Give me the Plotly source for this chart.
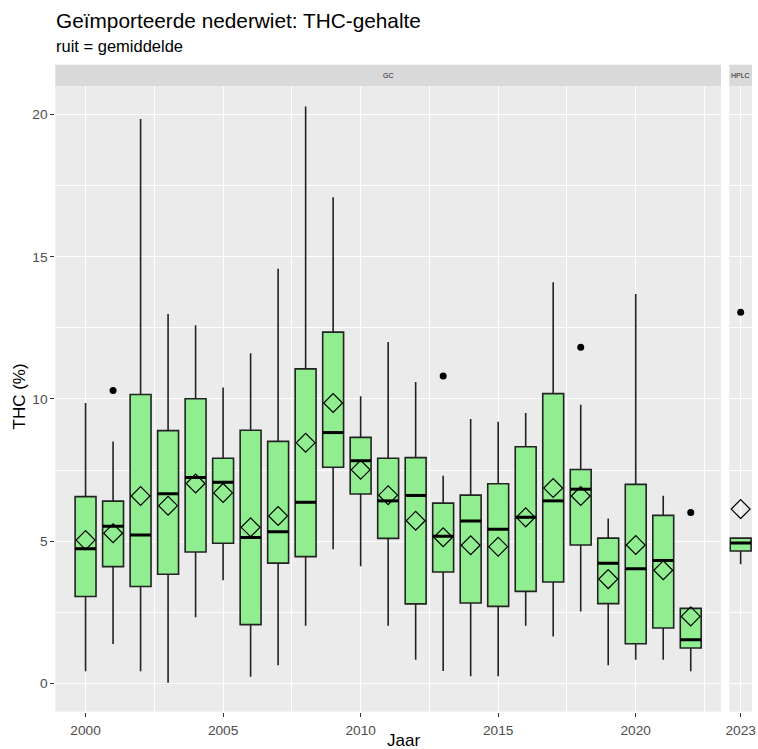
import plotly.graph_objects as go

# ---- data ----
years_gc = [2000, 2001, 2002, 2003, 2004, 2005, 2006, 2007, 2008, 2009, 2010, 2011,
            2012, 2013, 2014, 2015, 2016, 2017, 2018, 2019, 2020, 2021, 2022]
q1_gc = [3.06, 4.11, 3.41, 3.84, 4.62, 4.93, 2.07, 4.23, 4.46, 7.60, 6.66, 5.10,
         2.80, 3.92, 2.83, 2.71, 3.24, 3.57, 4.87, 2.81, 1.40, 1.95, 1.25]
med_gc = [4.74, 5.53, 5.22, 6.67, 7.24, 7.07, 5.13, 5.33, 6.37, 8.82, 7.83, 6.42,
          6.61, 5.18, 5.71, 5.42, 5.84, 6.42, 6.83, 4.23, 4.03, 4.32, 1.54]
q3_gc = [6.57, 6.41, 10.16, 8.89, 10.01, 7.92, 8.90, 8.51, 11.06, 12.35, 8.65, 7.92,
         7.94, 6.34, 6.62, 7.02, 8.32, 10.19, 7.52, 5.11, 7.00, 5.91, 2.64]
low_gc = [0.43, 1.39, 0.43, 0.03, 2.33, 3.63, 0.24, 0.64, 2.03, 4.72, 4.12, 2.03,
          0.84, 0.44, 0.26, 0.26, 2.03, 1.65, 2.53, 0.64, 0.84, 0.84, 0.43]
up_gc = [9.86, 8.51, 19.84, 12.99, 12.59, 10.40, 11.61, 14.58, 20.28, 17.09, 10.10, 12.00,
         10.60, 7.30, 9.30, 9.20, 9.51, 14.10, 9.80, 5.80, 13.69, 6.60, 2.66]
mean_gc = [5.04, 5.28, 6.59, 6.25, 7.03, 6.70, 5.49, 5.89, 8.46, 9.86, 7.51, 6.62,
           5.72, 5.14, 4.86, 4.81, 5.84, 6.87, 6.59, 3.67, 4.87, 3.98, 2.36]
out_x_gc = [2001, 2013, 2018, 2022]
out_y_gc = [10.30, 10.81, 11.82, 6.01]

years_hplc = [2023]
q1_hplc = [4.66]
med_hplc = [4.94]
q3_hplc = [5.11]
low_hplc = [4.19]
up_hplc = [5.11]
mean_hplc = [6.13]
out_x_hplc = [2023]
out_y_hplc = [13.05]

y_ticks = [0, 5, 10, 15, 20]
x_ticks_gc = [2000, 2005, 2010, 2015, 2020]
x_ticks_hplc = [2023]

TITLE = "Geïmporteerde nederwiet: THC-gehalte"
SUBTITLE = "ruit = gemiddelde"

# ---- style ----
W, H = 758, 749
FONT = "Liberation Sans, Arial, Helvetica, sans-serif"
BOX_W = 0.76
FILL = "#90EE90"
LINE = "#222222"
PANEL_BG = "#EBEBEB"
STRIP_BG = "#D9D9D9"
TICK_C = "#4D4D4D"
TICK_SIZE = 13.7
AXT_SIZE = 17


def px(x):
    return x / W


def py(y):
    return 1 - y / H


fig = go.Figure()


def add_panel(xa, ya, years, q1, med, q3, low, up, mean, ox, oy):
    fig.add_trace(go.Box(
        x=years, q1=q1, median=med, q3=q3, lowerfence=low, upperfence=up,
        width=BOX_W, whiskerwidth=0, fillcolor=FILL,
        line=dict(color=LINE, width=1.6), boxpoints=False,
        xaxis=xa, yaxis=ya, showlegend=False, hoverinfo="skip"))
    mx, my = [], []
    for yr, m in zip(years, med):
        mx += [yr - BOX_W / 2, yr + BOX_W / 2, None]
        my += [m, m, None]
    fig.add_trace(go.Scatter(x=mx, y=my, mode="lines",
                             line=dict(color="black", width=3),
                             xaxis=xa, yaxis=ya, showlegend=False, hoverinfo="skip"))
    fig.add_trace(go.Scatter(x=years, y=mean, mode="markers",
                             marker=dict(symbol="diamond-open", size=14.5, color="black",
                                         line=dict(width=1.2, color="black")),
                             xaxis=xa, yaxis=ya, showlegend=False, hoverinfo="skip"))
    fig.add_trace(go.Scatter(x=ox, y=oy, mode="markers",
                             marker=dict(symbol="circle", size=7, color="black"),
                             xaxis=xa, yaxis=ya, showlegend=False, hoverinfo="skip"))


add_panel("x", "y", years_gc, q1_gc, med_gc, q3_gc, low_gc, up_gc, mean_gc, out_x_gc, out_y_gc)
add_panel("x2", "y2", years_hplc, q1_hplc, med_hplc, q3_hplc, low_hplc, up_hplc,
          mean_hplc, out_x_hplc, out_y_hplc)

L_GC, R_GC = 55.3, 721.0
L_HP, R_HP = 729.3, 752.0
TOP, BOT = 86.0, 711.7
STRIP_TOP = 64.7
SCALE = (R_GC - L_GC) / (2023.1 - 1998.9)
hp_half = (R_HP - L_HP) / SCALE / 2

common_x = dict(showline=False, zeroline=False, showgrid=True, gridcolor="white", gridwidth=1.1,
                automargin=False, ticklabelstandoff=2,
                ticks="outside", ticklen=4, tickwidth=1.1, tickcolor="#333333",
                tickfont=dict(family=FONT, size=TICK_SIZE, color=TICK_C))
common_y = dict(showline=False, zeroline=False, showgrid=True, gridcolor="white", gridwidth=1.1,
                automargin=False, range=[-0.99, 21.0], domain=[py(BOT), py(TOP)],
                tickmode="array", tickvals=y_ticks,
                minor=dict(dtick=2.5, tick0=0, showgrid=True, gridcolor="white", gridwidth=0.55))

fig.update_layout(
    template="none",
    width=W, height=H, margin=dict(l=0, r=0, t=0, b=0, pad=0),
    paper_bgcolor="white", plot_bgcolor=PANEL_BG, showlegend=False,
    font=dict(family=FONT, color="black"),
    xaxis=dict(domain=[px(L_GC), px(R_GC)], range=[1998.9, 2023.1], anchor="y",
               tickmode="array", tickvals=x_ticks_gc,
               minor=dict(dtick=2.5, tick0=2000, showgrid=True, gridcolor="white", gridwidth=0.55),
               **common_x),
    xaxis2=dict(domain=[px(L_HP), px(R_HP)], range=[2023 - hp_half, 2023 + hp_half], anchor="y2",
                tickmode="array", tickvals=x_ticks_hplc,
                minor=dict(showgrid=False), **common_x),
    yaxis=dict(anchor="x", ticks="outside", ticklen=4, tickwidth=1.1, tickcolor="#333333",
               tickfont=dict(family=FONT, size=TICK_SIZE, color=TICK_C), **common_y),
    yaxis2=dict(anchor="x2", matches="y", showticklabels=False, ticks="", **common_y),
)

# strips
for x0, x1, label in [(L_GC, R_GC, "GC"), (L_HP, R_HP, "HPLC")]:
    fig.add_shape(type="rect", xref="paper", yref="paper",
                  x0=px(x0), x1=px(x1), y0=py(TOP), y1=py(STRIP_TOP),
                  fillcolor=STRIP_BG, line=dict(width=0), layer="below")
    fig.add_annotation(x=px((x0 + x1) / 2), y=py((TOP + STRIP_TOP) / 2), xref="paper", yref="paper",
                       text=label, showarrow=False, xanchor="center", yanchor="middle",
                       font=dict(family=FONT, size=7, color="#1A1A1A"))

fig.add_annotation(x=px(54.0), y=py(20.5), xref="paper", yref="paper", text=TITLE,
                   showarrow=False, xanchor="left", yanchor="middle",
                   font=dict(family=FONT, size=20.8, color="black"))
fig.add_annotation(x=px(54.0), y=py(46.5), xref="paper", yref="paper", text=SUBTITLE,
                   showarrow=False, xanchor="left", yanchor="middle",
                   font=dict(family=FONT, size=16.5, color="black"))
fig.add_annotation(x=px(18.5), y=py(397.0), xref="paper", yref="paper", text="THC (%)",
                   showarrow=False, textangle=-90, xanchor="center", yanchor="middle",
                   font=dict(family=FONT, size=AXT_SIZE, color="black"))
fig.add_annotation(x=px(403.6), y=py(740.5), xref="paper", yref="paper", text="Jaar",
                   showarrow=False, xanchor="center", yanchor="middle",
                   font=dict(family=FONT, size=AXT_SIZE, color="black"))

fig.write_html("out.html",
               config={"displayModeBar": False},
               post_script="document.body.style.margin='0px';"
                           "document.body.style.overflow='hidden';")
